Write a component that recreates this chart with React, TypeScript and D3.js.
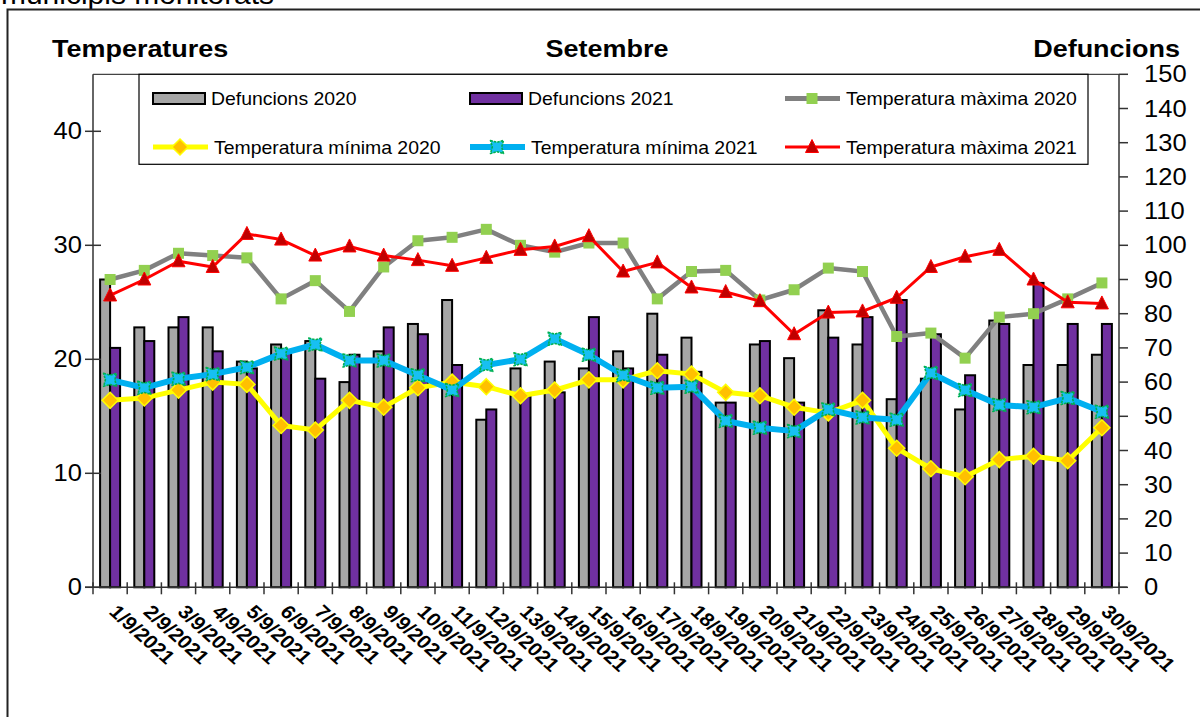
import React from "react";
import * as d3 from "d3";

const days = Array.from({ length: 30 }, (_, i) => `${i + 1}/9/2021`);
const deaths2020 = [90, 76, 76, 76, 66, 71, 72, 60, 69, 77, 84, 49, 64, 66, 64, 69, 80, 73, 54, 71, 67, 81, 71, 55, 61, 52, 78, 65, 65, 68];
const deaths2021 = [70, 72, 79, 69, 64, 69, 61, 68, 76, 74, 65, 52, 56, 57, 79, 64, 68, 63, 54, 72, 54, 73, 79, 84, 74, 62, 77, 89, 77, 77];
const tmax2020 = [27.0, 27.8, 29.3, 29.1, 28.9, 25.3, 26.9, 24.2, 28.1, 30.4, 30.7, 31.4, 30.0, 29.4, 30.2, 30.2, 25.3, 27.7, 27.8, 25.2, 26.1, 28.0, 27.7, 22.0, 22.3, 20.1, 23.7, 24.0, 25.3, 26.7];
const tmin2020 = [16.4, 16.6, 17.3, 18.0, 17.8, 14.2, 13.8, 16.4, 15.8, 17.5, 18.0, 17.6, 16.8, 17.3, 18.2, 18.2, 19.0, 18.7, 17.1, 16.8, 15.8, 15.3, 16.4, 12.2, 10.4, 9.7, 11.2, 11.5, 11.1, 14.0];
const tmin2021 = [18.2, 17.5, 18.3, 18.7, 19.3, 20.5, 21.3, 19.9, 19.9, 18.6, 17.3, 19.5, 20.0, 21.8, 20.4, 18.6, 17.5, 17.6, 14.6, 14.0, 13.7, 15.6, 14.9, 14.7, 18.8, 17.3, 16.0, 15.8, 16.6, 15.4];
const tmax2021 = [25.6, 27.0, 28.6, 28.1, 31.0, 30.5, 29.1, 29.9, 29.1, 28.7, 28.2, 28.9, 29.6, 29.9, 30.8, 27.7, 28.5, 26.3, 25.9, 25.1, 22.2, 24.1, 24.2, 25.4, 28.1, 29.0, 29.6, 27.0, 25.0, 24.9];
const leftTicks = [0, 10, 20, 30, 40];
const rightTicks = [0, 10, 20, 30, 40, 50, 60, 70, 80, 90, 100, 110, 120, 130, 140, 150];

const FONT = "'Liberation Sans', Arial, sans-serif";
const SX = 1.11;

const L = 93, R = 1119, T = 74.3, B = 587.3;

function Txt({ x, y, size, weight = "normal", anchor = "start", rotate = 0, children }: any) {
  return (
    <text
      transform={`translate(${x},${y}) scale(${SX},1) rotate(${rotate})`}
      fontFamily={FONT}
      fontSize={size}
      fontWeight={weight}
      textAnchor={anchor}
      fill="#000"
    >
      {children}
    </text>
  );
}

function Square({ x, y }: any) {
  return <rect x={x - 5.5} y={y - 5.5} width={11} height={11} fill="#92D050" />;
}
function Diamond({ x, y }: any) {
  const s = 8;
  return (
    <path d={`M${x},${y - s}L${x + s},${y}L${x},${y + s}L${x - s},${y}Z`} fill="#FFC000" stroke="#FFFF00" strokeWidth={1.5} />
  );
}
function CyanMark({ x, y }: any) {
  const s = 6.5, n = 1.8;
  const d = `M${x - s},${y - s}L${x},${y - s + n}L${x + s},${y - s}L${x + s - n},${y}L${x + s},${y + s}L${x},${y + s - n}L${x - s},${y + s}L${x - s + n},${y}Z`;
  return <path d={d} fill="#17C0F2" stroke="#00B050" strokeWidth={1.6} strokeLinejoin="round" strokeDasharray="2.5,1" />;
}
function Tri({ x, y }: any) {
  const s = 6.5;
  return <path d={`M${x},${y - s - 1}L${x + s},${y + s - 1}L${x - s},${y + s - 1}Z`} fill="#C00000" stroke="#FF0000" strokeWidth={1} />;
}

export default function App() {
  const x = d3.scaleBand<string>().domain(days).range([L, R]).padding(0);
  const yT = d3.scaleLinear().domain([0, 45]).range([B, T]);
  const yD = d3.scaleLinear().domain([0, 150]).range([B, T]);
  const cx = (i: number) => (x(days[i]) as number) + x.bandwidth() / 2;
  const barW = 10;

  const line = (vals: number[]) =>
    d3.line<number>().x((_, i) => cx(i)).y((v) => yT(v))(vals) as string;

  const series = [
    { vals: tmax2020, color: "#808080", w: 4.5, M: Square },
    { vals: tmin2020, color: "#FFFF00", w: 5, M: Diamond },
    { vals: tmin2021, color: "#00B0F0", w: 6, M: CyanMark },
    { vals: tmax2021, color: "#FF0000", w: 3, M: Tri },
  ];

  const legendRows = [
    [
      { type: "bar", fill: "#A6A6A6", label: "Defuncions 2020", x: 153 },
      { type: "bar", fill: "#7030A0", label: "Defuncions 2021", x: 470 },
      { type: "line", color: "#808080", w: 5, M: Square, label: "Temperatura màxima 2020", x: 785 },
    ],
    [
      { type: "line", color: "#FFFF00", w: 5, M: Diamond, label: "Temperatura mínima 2020", x: 153 },
      { type: "line", color: "#00B0F0", w: 6, M: CyanMark, label: "Temperatura mínima 2021", x: 470 },
      { type: "line", color: "#FF0000", w: 3, M: Tri, label: "Temperatura màxima 2021", x: 785 },
    ],
  ];
  const rowY = [98.5, 147];

  return (
    <svg width={1200} height={717} style={{ position: "absolute", left: 0, top: 0 }}>
      <rect x={0} y={0} width={1200} height={717} fill="#fff" />
      <Txt x={1} y={4} size={27}>municipis monitorats</Txt>
      <rect x={7.5} y={9.5} width={1210} height={720} fill="none" stroke="#222" strokeWidth={2} />

      <Txt x={52} y={57} size={24.3} weight="bold">Temperatures</Txt>
      <Txt x={607} y={57} size={24.3} weight="bold" anchor="middle">Setembre</Txt>
      <Txt x={1180} y={57} size={24.3} weight="bold" anchor="end">Defuncions</Txt>

      {/* bars */}
      {days.map((d, i) => (
        <g key={d}>
          <rect x={cx(i) - barW} y={yD(deaths2020[i])} width={barW} height={B - yD(deaths2020[i])} fill="#A6A6A6" stroke="#000" strokeWidth={2} />
          <rect x={cx(i)} y={yD(deaths2021[i])} width={barW} height={B - yD(deaths2021[i])} fill="#7030A0" stroke="#000" strokeWidth={2} />
        </g>
      ))}

      {/* plot border & axes */}
      <line x1={L} x2={R} y1={T} y2={T} stroke="#444" strokeWidth={1.2} />
      <line x1={L} x2={L} y1={T} y2={B} stroke="#333" strokeWidth={1.5} />
      <line x1={R} x2={R} y1={T} y2={B} stroke="#333" strokeWidth={1.5} />
      <line x1={L - 8} x2={R + 8} y1={B} y2={B} stroke="#333" strokeWidth={1.5} />
      {leftTicks.map((t) => (
        <g key={"l" + t}>
          <line x1={L - 8} x2={L + 8} y1={yT(t)} y2={yT(t)} stroke="#333" strokeWidth={1.5} />
          <Txt x={82} y={yT(t) + 8} size={23} anchor="end">{t}</Txt>
        </g>
      ))}
      {rightTicks.map((t) => (
        <g key={"r" + t}>
          <line x1={R} x2={R + 9} y1={yD(t)} y2={yD(t)} stroke="#333" strokeWidth={1.5} />
          <Txt x={1144} y={yD(t) + 8} size={23}>{t}</Txt>
        </g>
      ))}
      {d3.range(31).map((i) => {
        const xx = L + i * x.bandwidth();
        return <line key={"xt" + i} x1={xx} x2={xx} y1={B - 5} y2={B + 7} stroke="#333" strokeWidth={1.5} />;
      })}
      {days.map((d, i) => (
        <Txt key={"xl" + i} x={cx(i) - 2} y={613} size={19} weight="bold" rotate={45}>{d}</Txt>
      ))}

      {/* lines */}
      {series.map((s, k) => (
        <g key={"s" + k}>
          <path d={line(s.vals)} fill="none" stroke={s.color} strokeWidth={s.w} strokeLinejoin="round" />
          {s.vals.map((v, i) => (
            <s.M key={i} x={cx(i)} y={yT(v)} />
          ))}
        </g>
      ))}

      {/* legend */}
      <rect x={139} y={T} width={949} height={90} fill="#fff" stroke="#000" strokeWidth={1.2} />
      {legendRows.map((row, r) =>
        row.map((it: any, j) => (
          <g key={`lg${r}-${j}`}>
            {it.type === "bar" ? (
              <rect x={it.x} y={rowY[r] - 5.5} width={52} height={11} fill={it.fill} stroke="#000" strokeWidth={2} />
            ) : (
              <g>
                <line x1={it.x} x2={it.x + 55} y1={rowY[r]} y2={rowY[r]} stroke={it.color} strokeWidth={it.w} />
                <it.M x={it.x + 27} y={rowY[r]} />
              </g>
            )}
            <Txt x={it.type === "bar" ? it.x + 58 : it.x + 61} y={rowY[r] + 6.5} size={17.5}>{it.label}</Txt>
          </g>
        ))
      )}
    </svg>
  );
}
